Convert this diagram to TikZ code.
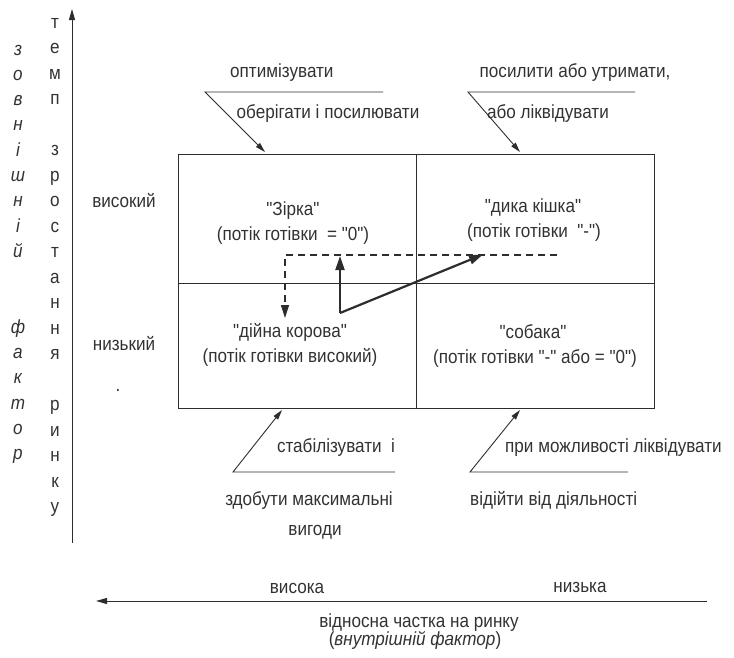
\documentclass[tikz,border=0pt]{standalone}
\usepackage{fontspec}
\setmainfont{Liberation Sans}[Ligatures=TeXOff, FakeStretch=0.9]
\usetikzlibrary{arrows.meta}
\definecolor{ink}{RGB}{45,45,45}
\definecolor{txt}{RGB}{50,50,50}

\begin{document}
\begin{tikzpicture}[x=1pt,y=-1pt,
  lbl/.style={text=txt, inner sep=0pt, font=\fontsize{19}{22}\selectfont, anchor=base},
  lblw/.style={lbl, anchor=base west},
  rule/.style={draw=ink, line width=0.9pt},
  callout/.style={rule, -{Triangle[length=10pt,width=5.5pt]}},
  cell/.style={rule, minimum width=238pt, inner sep=0pt, outer sep=0pt},
  axis/.style={draw=ink, line width=1pt, -{Triangle[length=11pt,width=6pt]}},
  move/.style={draw=ink, line width=2.2pt, -{Triangle[length=14pt,width=9pt]}},
  hint/.style={draw=ink, line width=1.1pt, dash pattern=on 7pt off 5pt, -{Triangle[length=13pt,width=8pt]}}
]
\useasboundingbox (0,0) rectangle (734,657);

% the four quadrants
\node[cell, minimum height=129pt] (q11) at (297,218.5) {};
\node[cell, minimum height=129pt] (q12) at (535,218.5) {};
\node[cell, minimum height=125pt] (q21) at (297,345.5) {};
\node[cell, minimum height=125pt] (q22) at (535,345.5) {};

% quadrant texts
\node[lbl] (t11a) at (293,215) {"Зірка"};
\node[lbl] (t11b) at (293,240) {(потік готівки \ = "0")};
\node[lbl] (t12a) at (533,212) {"дика кішка"};
\node[lbl] (t12b) at (534,237) {(потік готівки \ "-")};
\node[lbl] (t21a) at (290,337) {"дійна корова"};
\node[lbl] (t21b) at (290,362) {(потік готівки високий)};
\node[lbl] (t22a) at (533,338) {"собака"};
\node[lbl] (t22b) at (535,363) {(потік готівки "-" або = "0")};

% row labels
\node[lbl] (hi) at (124,207) {високий};
\node[lbl] (lo) at (124,350) {низький};
\node[lbl] (dot) at (118,391) {.};

% strategy callouts above the matrix
\coordinate (c1a) at (383,92);
\coordinate (c1b) at (205,92);
\coordinate (c1c) at (265,152);
\draw[callout] (c1a) -- (c1b) -- (c1c);
\node[lblw] (s1a) at (230,77) {оптимізувати};
\node[lbl] (s1b) at (328,118) {оберігати і посилювати};

\coordinate (c2a) at (635,92);
\coordinate (c2b) at (468,92);
\coordinate (c2c) at (520,152);
\draw[callout] (c2a) -- (c2b) -- (c2c);
\node[lbl] (s2a) at (575,77) {посилити або утримати,};
\node[lbl] (s2b) at (548,118) {або ліквідувати};

% strategy callouts below the matrix
\coordinate (c3a) at (395,472);
\coordinate (c3b) at (233,472);
\coordinate (c3c) at (282,410);
\draw[callout] (c3a) -- (c3b) -- (c3c);
\node[lbl] (s3a) at (336,452) {стабілізувати \ і};
\node[lbl] (s3b) at (309,505) {здобути максимальні};
\node[lbl] (s3c) at (315,535) {вигоди};

\coordinate (c4a) at (628,472);
\coordinate (c4b) at (470,472);
\coordinate (c4c) at (520,410);
\draw[callout] (c4a) -- (c4b) -- (c4c);
\node[lblw] (s4a) at (505,452) {при можливості ліквідувати};
\node[lblw] (s4b) at (470,505) {відійти від діяльності};

% movement of products between quadrants
\coordinate (dA) at (557,255);
\coordinate (dB) at (285,255);
\coordinate (dC) at (285,318);
\draw[hint] (dA) -- (dB) -- (dC);
\coordinate (mA) at (340,313);
\coordinate (mUp) at (340,256);
\coordinate (mRt) at (483,254.5);
\draw[move] (mA) -- (mUp);
\draw[move] (mA) -- (mRt);

% vertical axis: market growth rate
\coordinate (ybot) at (72,543);
\coordinate (ytop) at (72,9);
\draw[axis] (ybot) -- (ytop);
\foreach \ch [count=\i from 0] in {т,е,м,п,{},з,р,о,с,т,а,н,н,я,{},р,и,н,к,у}
  \node[lbl] (g\i) at (55,{28+25.5*\i}) {\ch};
\foreach \ch [count=\i from 0] in {з,о,в,н,і,ш,н,і,й,{},{},ф,а,к,т,о,р}
  \node[lbl, font=\fontsize{19}{22}\selectfont\itshape] (e\i) at (18,{55+25.3*\i}) {\ch};

% horizontal axis: relative market share
\coordinate (xr) at (707,601);
\coordinate (xl) at (96,601);
\draw[axis] (xr) -- (xl);
\node[lbl] (xhi) at (297,593) {висока};
\node[lbl] (xlo) at (580,592) {низька};
\node[lbl] (xt1) at (419,627) {відносна частка на ринку};
\node[lbl] (xt2) at (415,645) {(\textit{внутрішній фактор})};
\end{tikzpicture}
\end{document}
